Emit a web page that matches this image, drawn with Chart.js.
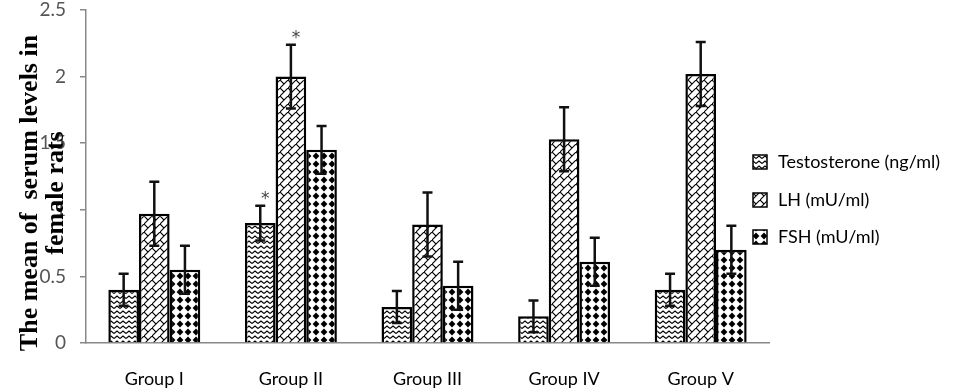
<!DOCTYPE html>
<html>
<head>
<meta charset="utf-8">
<script src="https://cdn.jsdelivr.net/npm/chart.js@4.4.1/dist/chart.umd.min.js"></script>
<style>
  html, body { margin: 0; padding: 0; background: #fff; }
  canvas { display: block; }
</style>
</head>
<body>
<canvas id="chart" width="958" height="392"></canvas>
<script>
const groups = ['Group I', 'Group II', 'Group III', 'Group IV', 'Group V'];
const seriesNames = ['Testosterone (ng/ml)', 'LH (mU/ml)', 'FSH (mU/ml)'];

const testosterone = [0.40, 0.90, 0.27, 0.20, 0.40];
const lh = [0.97, 2.00, 0.89, 1.53, 2.02];
const fsh = [0.55, 1.45, 0.43, 0.61, 0.70];

const testosteroneErr = [0.12, 0.13, 0.12, 0.12, 0.12];
const lhErr = [0.24, 0.24, 0.24, 0.24, 0.24];
const fshErr = [0.18, 0.18, 0.18, 0.18, 0.18];

// which bars carry a significance star
const testosteroneStar = [false, true, false, false, false];
const lhStar = [false, true, false, false, false];
const fshStar = [false, false, false, false, false];

const axisTitle = ['The mean of  serum levels in', 'female rats'];

// --- fill patterns ---
function makePattern(w, h, draw) {
    const c = document.createElement('canvas');
    c.width = w; c.height = h;
    const g = c.getContext('2d');
    g.fillStyle = '#fff';
    g.fillRect(0, 0, w, h);
    g.fillStyle = '#000';
    g.strokeStyle = '#000';
    draw(g);
    return document.getElementById('chart').getContext('2d').createPattern(c, 'repeat');
}

const zigzag = makePattern(6, 5, g => {
    g.lineWidth = 1.1;
    g.beginPath();
    g.moveTo(0, 3.5); g.lineTo(3, 1); g.lineTo(6, 3.5);
    g.stroke();
});

const brick = makePattern(8, 8, g => {
    g.lineWidth = 1.1;
    g.beginPath();
    g.moveTo(-1, 9); g.lineTo(9, -1);
    g.moveTo(0, 0); g.lineTo(4, 4);
    g.moveTo(8, 8); g.lineTo(9, 9);
    g.stroke();
});

const diamonds = makePattern(8, 8, g => {
    g.beginPath();
    g.moveTo(4, 0.6); g.lineTo(7.4, 4); g.lineTo(4, 7.4); g.lineTo(0.6, 4);
    g.closePath();
    g.fill();
});

const fills = [zigzag, brick, diamonds];
const errs = [testosteroneErr, lhErr, fshErr];
const stars = [testosteroneStar, lhStar, fshStar];

const errorBars = {
    id: 'errorBars',
    afterDatasetsDraw(chart) {
        const ctx = chart.ctx;
        const y = chart.scales.y;
        ctx.save();
        chart.data.datasets.forEach((ds, i) => {
            const meta = chart.getDatasetMeta(i);
            meta.data.forEach((bar, j) => {
                const v = ds.data[j], e = errs[i][j];
                const top = y.getPixelForValue(v + e);
                const bot = y.getPixelForValue(v - e);
                ctx.strokeStyle = '#111';
                ctx.lineWidth = 2.5;
                ctx.beginPath();
                ctx.moveTo(bar.x, top); ctx.lineTo(bar.x, bot);
                ctx.moveTo(bar.x - 5, top); ctx.lineTo(bar.x + 5, top);
                ctx.moveTo(bar.x - 5, bot); ctx.lineTo(bar.x + 5, bot);
                ctx.stroke();
                if (stars[i][j]) {
                    ctx.fillStyle = '#444';
                    ctx.font = '17px "DejaVu Sans"';
                    ctx.textAlign = 'center';
                    ctx.textBaseline = 'middle';
                    ctx.fillText('*', bar.x + 5, top - 6);
                }
            });
        });
        ctx.restore();
    }
};

const sideTitle = {
    id: 'sideTitle',
    afterDraw(chart) {
        const ctx = chart.ctx;
        ctx.save();
        ctx.translate(37, 193);
        ctx.rotate(-Math.PI / 2);
        ctx.fillStyle = '#000';
        ctx.font = 'bold 26px "Liberation Serif"';
        ctx.textAlign = 'center';
        ctx.textBaseline = 'alphabetic';
        ctx.fillText(axisTitle[0], 0, 0);
        ctx.fillText(axisTitle[1], 0, 26);
        ctx.restore();
    }
};

const sideLegend = {
    id: 'sideLegend',
    afterDraw(chart) {
        const ctx = chart.ctx;
        const rows = [162, 200, 237];
        ctx.save();
        chart.data.datasets.forEach((ds, i) => {
            const cy = rows[i];
            ctx.fillStyle = ds.backgroundColor;
            ctx.fillRect(753, cy - 7, 14, 14);
            ctx.strokeStyle = '#000';
            ctx.lineWidth = 1.5;
            ctx.strokeRect(753, cy - 7, 14, 14);
            ctx.fillStyle = '#000';
            ctx.font = '18px Lato';
            ctx.textAlign = 'left';
            ctx.textBaseline = 'middle';
            ctx.fillText(ds.label, 778, cy);
        });
        ctx.restore();
    }
};

new Chart(document.getElementById('chart'), {
    type: 'bar',
    data: {
        labels: groups,
        datasets: [testosterone, lh, fsh].map((d, i) => ({
            label: seriesNames[i],
            data: d,
            backgroundColor: fills[i],
            borderColor: '#000',
            borderWidth: 2.5,
            categoryPercentage: 0.673,
            barPercentage: 1,
        })),
    },
    options: {
        responsive: false,
        animation: false,
        layout: { padding: { top: 10, right: 189, left: 0, bottom: 0 } },
        plugins: { legend: { display: false }, tooltip: { enabled: false } },
        scales: {
            x: {
                grid: { display: false },
                border: { color: '#888', width: 1.5 },
                ticks: { color: '#000', font: { family: 'Lato', size: 18 }, padding: 17 },
                afterFit: s => { s.height = 49; s.paddingLeft = 0; s.paddingRight = 0; },
            },
            y: {
                min: 0,
                max: 2.5,
                ticks: {
                    stepSize: 0.5,
                    color: '#555',
                    font: { family: 'Lato', size: 19 },
                    padding: 14,
                    callback: v => String(v),
                },
                grid: { drawOnChartArea: false, tickLength: 6, color: '#888', lineWidth: 1.5 },
                border: { color: '#888', width: 1.5 },
                afterFit: s => { s.width = 86; s.paddingTop = 0; s.paddingBottom = 0; },
            },
        },
    },
    plugins: [errorBars, sideTitle, sideLegend],
});
</script>
</body>
</html>
